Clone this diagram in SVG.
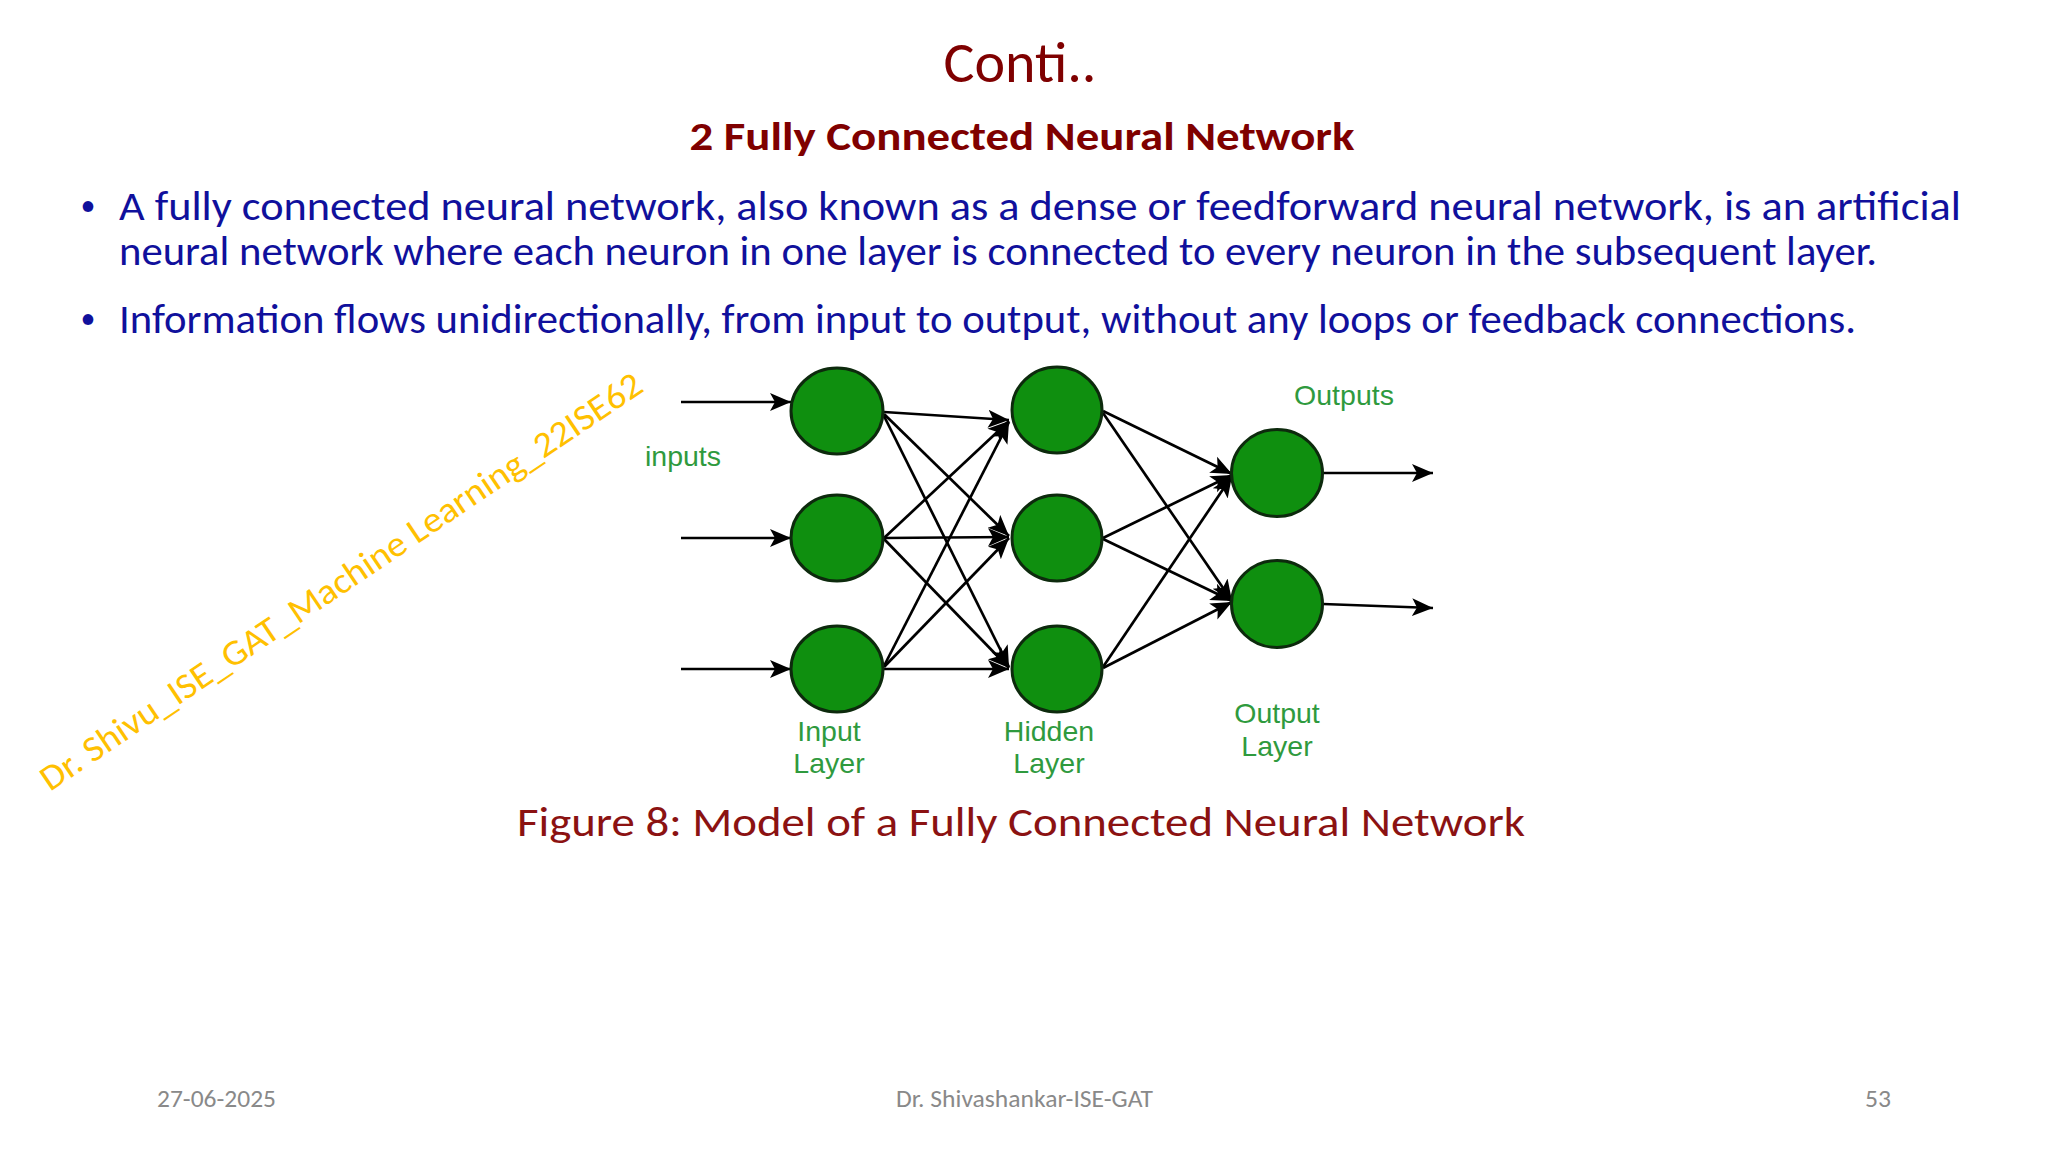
<svg xmlns="http://www.w3.org/2000/svg" width="2048" height="1152" viewBox="0 0 2048 1152">
<defs>
<style>
.slide{font-family:Carlito,Lato,"Liberation Sans",sans-serif}
.title{fill:#7f0000;font-size:58px}
.sub{fill:#7f0000;font-size:41px;font-weight:bold}
.body{fill:#10109c;font-size:40px}
.dot{fill:#10109c;font-size:30px;text-anchor:middle}
.cap{fill:#8b1212;font-size:41px}
.foot{fill:#898989;font-size:25px}
.wm{fill:#ffc000;font-size:36px}
.lbl{font-family:"Liberation Sans",Arial,sans-serif;fill:#2f9a3e;font-size:28.5px;text-anchor:middle}
.neuron{fill:#0f8f0f;stroke:#0d2a0d;stroke-width:3}
.edge{stroke:#000;stroke-width:2.7;fill:none;marker-end:url(#ah)}
</style>
<marker id="ah" markerUnits="userSpaceOnUse" markerWidth="24" markerHeight="20" refX="21" refY="10" orient="auto">
<path d="M0,1 L21,10 L0,19 L5,10 z" fill="#000"/>
</marker>
</defs>
<rect width="2048" height="1152" fill="#fff"/>

<g id="title-text" class="slide">
<text class="title" x="1020" y="82" text-anchor="middle" textLength="153" lengthAdjust="spacingAndGlyphs">Conti..</text>
<text class="sub" x="1022" y="150" text-anchor="middle" textLength="665" lengthAdjust="spacingAndGlyphs">2 Fully Connected Neural Network</text>
</g>

<g id="bullets" class="slide">
<text class="dot" x="88" y="215">•</text>
<text class="body" x="119" y="220" textLength="1842" lengthAdjust="spacingAndGlyphs">A fully connected neural network, also known as a dense or feedforward neural network, is an artificial</text>
<text class="body" x="119" y="265" textLength="1758" lengthAdjust="spacingAndGlyphs">neural network where each neuron in one layer is connected to every neuron in the subsequent layer.</text>
<text class="dot" x="88" y="328">•</text>
<text class="body" x="119" y="333" textLength="1737" lengthAdjust="spacingAndGlyphs">Information flows unidirectionally, from input to output, without any loops or feedback connections.</text>
</g>

<g id="connectors">
<!-- external inputs -->
<line class="edge" x1="681" y1="402" x2="791" y2="402"/>
<line class="edge" x1="681" y1="538" x2="791" y2="538"/>
<line class="edge" x1="681" y1="669" x2="791" y2="669"/>
<!-- input to hidden -->
<line class="edge" x1="884" y1="412" x2="1009" y2="420"/>
<line class="edge" x1="884" y1="414" x2="1009" y2="536"/>
<line class="edge" x1="884" y1="416" x2="1009" y2="667"/>
<line class="edge" x1="884" y1="538" x2="1009" y2="421"/>
<line class="edge" x1="884" y1="538" x2="1009" y2="537"/>
<line class="edge" x1="884" y1="539" x2="1009" y2="668"/>
<line class="edge" x1="884" y1="666" x2="1009" y2="422"/>
<line class="edge" x1="884" y1="667" x2="1009" y2="538"/>
<line class="edge" x1="884" y1="669" x2="1009" y2="669"/>
<!-- hidden to output -->
<line class="edge" x1="1103" y1="411" x2="1232" y2="474"/>
<line class="edge" x1="1103" y1="413" x2="1232" y2="601"/>
<line class="edge" x1="1103" y1="538" x2="1232" y2="475"/>
<line class="edge" x1="1103" y1="539" x2="1232" y2="601"/>
<line class="edge" x1="1103" y1="667" x2="1232" y2="476"/>
<line class="edge" x1="1103" y1="668" x2="1232" y2="602"/>
<!-- outputs -->
<line class="edge" x1="1323" y1="473" x2="1433" y2="473"/>
<line class="edge" x1="1323" y1="604" x2="1433" y2="608"/>
</g>

<g id="in-1"><ellipse class="neuron" cx="837" cy="411" rx="46" ry="43"/></g>
<g id="in-2"><ellipse class="neuron" cx="837" cy="538" rx="46" ry="43"/></g>
<g id="in-3"><ellipse class="neuron" cx="837" cy="669" rx="46" ry="43"/></g>
<g id="hid-1"><ellipse class="neuron" cx="1057" cy="410" rx="45" ry="43"/></g>
<g id="hid-2"><ellipse class="neuron" cx="1057" cy="538" rx="45" ry="43"/></g>
<g id="hid-3"><ellipse class="neuron" cx="1057" cy="669" rx="45" ry="43"/></g>
<g id="out-1"><ellipse class="neuron" cx="1277" cy="473" rx="45.5" ry="43.5"/></g>
<g id="out-2"><ellipse class="neuron" cx="1277" cy="604" rx="45.5" ry="43.5"/></g>

<g id="labels">
<text class="lbl" x="683" y="466">inputs</text>
<text class="lbl" x="1344" y="405">Outputs</text>
<text class="lbl" x="829" y="741">Input</text>
<text class="lbl" x="829" y="773">Layer</text>
<text class="lbl" x="1049" y="741">Hidden</text>
<text class="lbl" x="1049" y="773">Layer</text>
<text class="lbl" x="1277" y="723">Output</text>
<text class="lbl" x="1277" y="756">Layer</text>
</g>

<g id="caption" class="slide">
<text class="cap" x="517" y="836" textLength="1008" lengthAdjust="spacingAndGlyphs">Figure 8: Model of a Fully Connected Neural Network</text>
</g>

<g id="watermark" class="slide">
<text class="wm" x="0" y="0" transform="translate(50,792) rotate(-34)" textLength="718" lengthAdjust="spacingAndGlyphs">Dr. Shivu_ISE_GAT_Machine Learning_22ISE62</text>
</g>

<g id="footer" class="slide">
<text class="foot" x="157" y="1107" textLength="119" lengthAdjust="spacingAndGlyphs">27-06-2025</text>
<text class="foot" x="1024.5" y="1107" text-anchor="middle" textLength="257" lengthAdjust="spacingAndGlyphs">Dr. Shivashankar-ISE-GAT</text>
<text class="foot" x="1891" y="1107" text-anchor="end" textLength="26" lengthAdjust="spacingAndGlyphs">53</text>
</g>
</svg>
